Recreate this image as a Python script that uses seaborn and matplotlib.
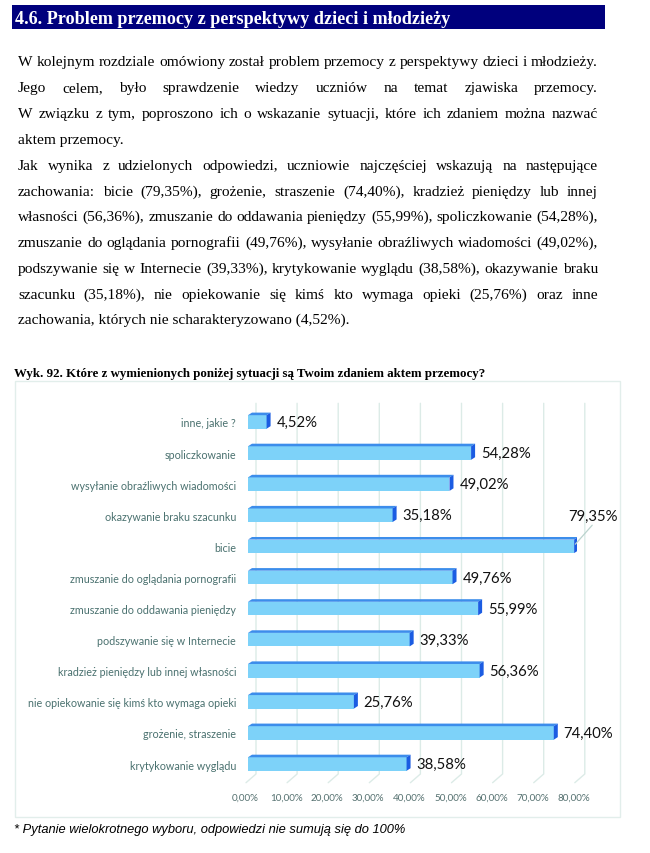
import numpy as np
import pandas as pd
import matplotlib
matplotlib.use("Agg")
import matplotlib.pyplot as plt
import seaborn as sns
from matplotlib.patches import Polygon, Rectangle
from matplotlib.transforms import ScaledTranslation, blended_transform_factory

# ---------------- data ----------------
categories = [
    "inne, jakie ?",
    "spoliczkowanie",
    "wysyłanie obraźliwych wiadomości",
    "okazywanie braku szacunku",
    "bicie",
    "zmuszanie do oglądania pornografii",
    "zmuszanie do oddawania pieniędzy",
    "podszywanie się w Internecie",
    "kradzież pieniędzy lub innej własności",
    "nie opiekowanie się kimś kto wymaga opieki",
    "grożenie, straszenie",
    "krytykowanie wyglądu",
]
values = [4.52, 54.28, 49.02, 35.18, 79.35, 49.76, 55.99, 39.33, 56.36, 25.76, 74.40, 38.58]
x_ticks = [0, 10, 20, 30, 40, 50, 60, 70, 80]
x_tick_labels = ["0,00%", "10,00%", "20,00%", "30,00%", "40,00%", "50,00%", "60,00%", "70,00%", "80,00%"]

heading = "4.6. Problem przemocy z perspektywy dzieci i młodzieży"
paragraph_lines = [
    ("W kolejnym rozdziale omówiony został problem przemocy z perspektywy dzieci i młodzieży.", True),
    ("Jego celem, było sprawdzenie wiedzy uczniów na temat zjawiska przemocy.", True),
    ("W związku z tym, poproszono ich o wskazanie sytuacji, które ich zdaniem można nazwać", True),
    ("aktem przemocy.", False),
    ("Jak wynika z udzielonych odpowiedzi, uczniowie najczęściej wskazują na następujące", True),
    ("zachowania: bicie (79,35%), grożenie, straszenie (74,40%), kradzież pieniędzy lub innej", True),
    ("własności (56,36%), zmuszanie do oddawania pieniędzy (55,99%), spoliczkowanie (54,28%),", True),
    ("zmuszanie do oglądania pornografii (49,76%), wysyłanie obraźliwych wiadomości (49,02%),", True),
    ("podszywanie się w Internecie (39,33%), krytykowanie wyglądu (38,58%), okazywanie braku", True),
    ("szacunku (35,18%), nie opiekowanie się kimś kto wymaga opieki (25,76%) oraz inne", True),
    ("zachowania, których nie scharakteryzowano (4,52%).", False),
]
chart_title = "Wyk. 92. Które z wymienionych poniżej sytuacji są Twoim zdaniem aktem przemocy?"
footnote = "* Pytanie wielokrotnego wyboru, odpowiedzi nie sumują się do 100%"

# ---------------- figure ----------------
sns.set_theme(style="white")
W, H = 650, 854
fig = plt.figure(figsize=(W / 100, H / 100), dpi=100)
fig.patch.set_facecolor("white")
renderer = fig.canvas.get_renderer()


def fx(px):
    return px / W


def fy(py):
    return 1 - py / H


def text_width(t):
    return t.get_window_extent(renderer).width


def fit(t, target):
    t.set_fontsize(10)
    t.set_fontsize(10 * target / text_width(t))
    return t.get_fontsize()


def size_for(s, target, **kw):
    t = fig.text(0, 0, s, fontsize=10, **kw)
    w = text_width(t)
    t.remove()
    return 10 * target / w


SERIF = "Liberation Serif"
SANS = "Lato"

# heading band
fig.patches.append(Rectangle((fx(12), fy(30)), (605 - 12) / W, 24 / H,
                             transform=fig.transFigure, facecolor="#00007D",
                             edgecolor="none", zorder=0))
ht = fig.text(fx(15), fy(24), heading, color="white", family=SERIF,
              weight="bold", va="baseline", ha="left")
fit(ht, 436)

# body paragraph, justified word by word
x_left, x_right = 18, 598
body_fs = size_for(paragraph_lines[0][0], x_right - x_left, family=SERIF)
for i, (line, justify) in enumerate(paragraph_lines):
    y = fy(round(62 + 25.8 * i + 4.5))
    if not justify:
        fig.text(fx(x_left), y, line, family=SERIF, fontsize=body_fs,
                 va="baseline", ha="left", color="black")
        continue
    words = line.split(" ")
    objs = [fig.text(0, y, w, family=SERIF, fontsize=body_fs,
                     va="baseline", ha="left", color="black") for w in words]
    widths = [text_width(o) for o in objs]
    gap = (x_right - x_left - sum(widths)) / (len(words) - 1)
    xpos = x_left
    for o, w in zip(objs, widths):
        o.set_x(fx(xpos))
        xpos += w + gap

# chart caption
ct = fig.text(fx(14), fy(377), chart_title, family=SERIF, weight="bold",
              va="baseline", ha="left", color="black")
fit(ct, 474)

# chart frame
fig.patches.append(Rectangle((fx(15), fy(818)), (620 - 15) / W, (818 - 382) / H,
                             transform=fig.transFigure, facecolor="none",
                             edgecolor="#E2EEEB", lw=1.0, zorder=0))

# ---------------- bar chart ----------------
px_per_unit = 4.11
ax_left, ax_right = 248, 248 + 80 * px_per_unit
ax_top, ax_bot = 404.3, 783.7
ax = fig.add_axes([fx(ax_left), fy(ax_bot), (ax_right - ax_left) / W, (ax_bot - ax_top) / H])
ax.patch.set_alpha(0)

df = pd.DataFrame({"category": categories, "value": values})
sns.barplot(data=df, y="category", x="value", orient="h", color="#7DD2F9",
            saturation=1, width=0.435, edgecolor="none", ax=ax, zorder=3)
ax.set_xlim(0, 80)
ax.set_ylim(len(categories) - 0.4, -0.6)
for s in ax.spines.values():
    s.set_visible(False)
ax.set_xlabel("")
ax.set_ylabel("")

# perspective gridlines (back wall + floor)
gtrans = blended_transform_factory(ax.transData, ax.transAxes)
back = 8 / px_per_unit
front = -2 / px_per_unit
floor_y = (ax_bot - 775) / (ax_bot - ax_top)
for xv in x_ticks:
    ax.plot([xv + back, xv + back, xv + front], [1.0, floor_y, 0.0],
            transform=gtrans, color="#DCEBE7", lw=1.0, zorder=1, clip_on=False)

# 3D bar faces
dx = 4 / px_per_unit
dy = 2.6 / 31.14
for p in list(ax.patches):
    x0, w = p.get_x(), p.get_width()
    yt, h = p.get_y(), p.get_height()
    top = Polygon([(x0, yt), (x0 + dx, yt - dy), (x0 + w + dx, yt - dy), (x0 + w, yt)],
                  closed=True, facecolor="#3C8DEB", edgecolor="none", zorder=4)
    side = Polygon([(x0 + w, yt), (x0 + w + dx, yt - dy), (x0 + w + dx, yt + h - dy), (x0 + w, yt + h)],
                   closed=True, facecolor="#1B5CE2", edgecolor="none", zorder=4)
    ax.add_patch(top)
    ax.add_patch(side)

# data labels
label_fs = size_for("54,28%", 50, family=SANS)
vmax = max(values)
for i, v in enumerate(values):
    lab = f"{v:.2f}%".replace(".", ",")
    if v == vmax:
        ax.plot([v + 0.3, v + 4.4], [i - 0.07, i - 0.68], color="#BBD3CE", lw=0.9,
                zorder=5, clip_on=False)
        ax.text(v + 4.5, i - 0.97, lab, ha="center", va="center", fontsize=label_fs,
                family=SANS, color="#111111", clip_on=False, zorder=6)
    else:
        ax.text(v + 2.4, i, lab, ha="left", va="center", fontsize=label_fs,
                family=SANS, color="#111111", clip_on=False, zorder=6)

# category labels
cat_fs = size_for(max(categories, key=len), 209, family=SANS)
ax.tick_params(axis="y", length=0, pad=12 * 0.72, labelsize=cat_fs, labelcolor="#4A716F")
for lbl in ax.get_yticklabels():
    lbl.set_family(SANS)

# x tick labels
ax.set_xticks(x_ticks)
ax.set_xticklabels(x_tick_labels)
tick_fs = size_for("10,00%", 33, family=SANS)
ax.tick_params(axis="x", length=0, pad=10 * 0.72, labelsize=tick_fs, labelcolor="#557170")
for lbl in ax.get_xticklabels():
    lbl.set_family(SANS)
    lbl.set_transform(lbl.get_transform() + ScaledTranslation(-3 / 100, 0, fig.dpi_scale_trans))

# footnote
ft = fig.text(fx(14), fy(833), footnote, family="Liberation Sans", style="italic",
              va="baseline", ha="left", color="black")
fit(ft, 394)

fig.savefig("out.png", dpi=100, facecolor="white")
